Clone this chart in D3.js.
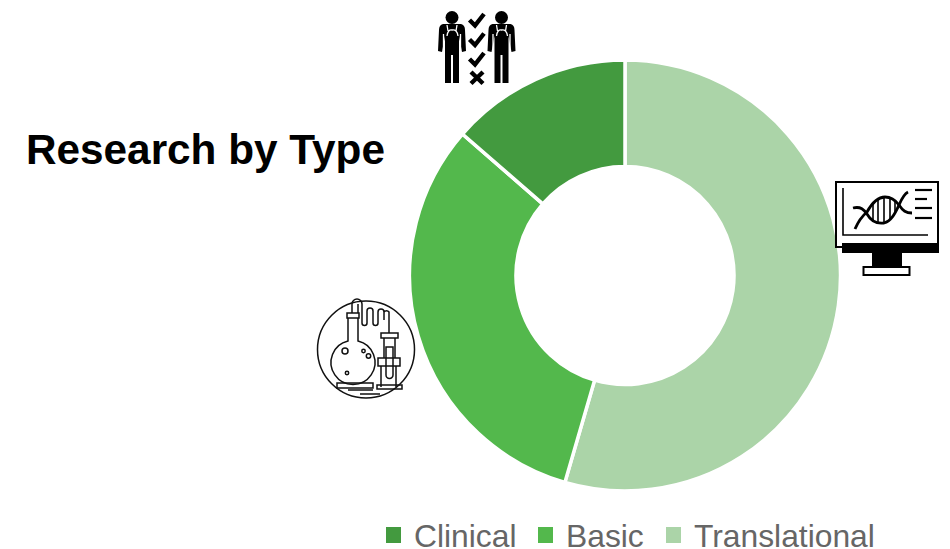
<!DOCTYPE html>
<html>
<head>
<meta charset="utf-8">
<script src="https://cdn.jsdelivr.net/npm/d3@7"></script>
<style>
  html, body { margin: 0; padding: 0; background: #fff; overflow: hidden; }
  text { font-family: "Liberation Sans", Arial, sans-serif; }
</style>
</head>
<body>
<svg width="950" height="549"></svg>
<script>
const categories = ["Translational", "Basic", "Clinical"];
const shares = [54.5, 31.9, 13.6];
const legendOrder = ["Clinical", "Basic", "Translational"];
const colors = ["#abd4a8", "#53b84c", "#439a3f"];
const titleText = "Research by Type";

const svg = d3.select("svg");
const cx = 625, cy = 275.5;
const color = d3.scaleOrdinal().domain(categories).range(colors);

const pie = d3.pie().sort(null).value(d => d.value);
const arc = d3.arc().innerRadius(109).outerRadius(215.5);
const slices = pie(categories.map((c, i) => ({ name: c, value: shares[i] })));

svg.append("g")
  .attr("transform", `translate(${cx},${cy})`)
  .selectAll("path")
  .data(slices)
  .join("path")
  .attr("d", arc)
  .attr("fill", d => color(d.data.name))
  .attr("stroke", "#fff")
  .attr("stroke-width", 3.5);

svg.append("text")
  .attr("x", 26).attr("y", 164)
  .attr("font-size", 42.3)
  .attr("font-weight", "bold")
  .attr("fill", "#000")
  .text(titleText);

// legend, placed by hand because the entries are not evenly spaced
const legendX = [386, 538, 666];
const legend = svg.append("g").selectAll("g")
  .data(legendOrder)
  .join("g")
  .attr("transform", (d, i) => `translate(${legendX[i]},0)`);
legend.append("rect")
  .attr("y", 527).attr("width", 15).attr("height", 16)
  .attr("fill", d => color(d));
legend.append("text")
  .attr("x", 28).attr("y", 547)
  .attr("font-size", 31.8)
  .attr("fill", "#666")
  .text(d => d);

// doctors + checklist icon
const doctor = (g, x) => {
  g.append("circle").attr("cx", x).attr("cy", 17.5).attr("r", 6.5).attr("fill", "#000");
  g.append("path").attr("fill", "#000")
    .attr("d", `M${x - 9} 24 L${x + 9} 24 Q${x + 13} 25 ${x + 13} 30 L${x + 14} 51 L${x + 10} 52 L${x + 7} 36 L${x + 7} 83 L${x + 1} 83 L${x + 1} 55 L${x - 1} 55 L${x - 1} 83 L${x - 7} 83 L${x - 7} 36 L${x - 10} 52 L${x - 14} 51 L${x - 13} 30 Q${x - 13} 25 ${x - 9} 24 Z`);
  g.append("path").attr("fill", "none").attr("stroke", "#fff").attr("stroke-width", 1.3)
    .attr("d", `M${x - 5} 25 L${x - 4} 31 M${x + 5} 25 L${x + 4} 31 M${x - 5} 36 Q${x - 4} 29 ${x} 30 Q${x + 5} 29 ${x + 6} 36 M${x - 8.5} 34 L${x - 8.5} 50 M${x + 8.5} 34 L${x + 8.5} 50`);
};
const docs = svg.append("g");
doctor(docs, 452);
doctor(docs, 501.5);
[20, 39.5, 59].forEach(y => {
  docs.append("path").attr("fill", "none").attr("stroke", "#000").attr("stroke-width", 4.4)
    .attr("d", `M469.5 ${y} L475 ${y + 5.5} L484 ${y - 6}`);
});
docs.append("path").attr("fill", "none").attr("stroke", "#000").attr("stroke-width", 4.4)
  .attr("d", "M471 72 L483 83.5 M483 72 L471 83.5");

// monitor with DNA icon
const mon = svg.append("g");
mon.append("rect").attr("x", 836).attr("y", 182).attr("width", 102).attr("height", 65)
  .attr("fill", "#fff").attr("stroke", "#000").attr("stroke-width", 2);
mon.append("rect").attr("x", 842).attr("y", 243).attr("width", 97).attr("height", 10).attr("fill", "#000");
mon.append("rect").attr("x", 872).attr("y", 253).attr("width", 30).attr("height", 14).attr("fill", "#000");
mon.append("rect").attr("x", 863.5).attr("y", 267).attr("width", 46).attr("height", 8)
  .attr("fill", "#fff").attr("stroke", "#000").attr("stroke-width", 2);
mon.append("path").attr("fill", "none").attr("stroke", "#000").attr("stroke-width", 1.6)
  .attr("d", "M843 188 L843 235 L928 235");
[[915, 932, 190], [915, 927, 199], [915, 932, 208], [915, 932, 218]].forEach(l => {
  mon.append("line").attr("x1", l[0]).attr("x2", l[1])
    .attr("y1", l[2]).attr("y2", l[2]).attr("stroke", "#000").attr("stroke-width", 2.2);
});
mon.append("path").attr("fill", "none").attr("stroke", "#000").attr("stroke-width", 2.8)
  .attr("d", "M853 208 C861 206 864 210 867 214 C871 221 877 224 884 223 C892 221 896 211 899 205 C902 198 904 194 908 192");
mon.append("path").attr("fill", "none").attr("stroke", "#000").attr("stroke-width", 2.8)
  .attr("d", "M855 229 C858 222 861 217 867 212 C872 203 878 197 885 197 C892 197 896 201 899 205 C903 211 906 213 912 213");
[[873, 204, 873, 221], [878, 199, 878, 224], [884, 197, 884, 224], [890, 199, 890, 220], [895, 202, 895, 213]]
  .forEach(l => {
    mon.append("line").attr("x1", l[0]).attr("y1", l[1]).attr("x2", l[2]).attr("y2", l[3])
      .attr("stroke", "#000").attr("stroke-width", 1.6);
  });

// flask icon, thin outlines only
const flask = svg.append("g").attr("fill", "none").attr("stroke", "#111").attr("stroke-width", 1.5);
flask.append("circle").attr("cx", 366).attr("cy", 349.5).attr("r", 48.5);
flask.append("path")
  .attr("d", "M348 318 L348 341 A22 22 0 1 0 358 341 L358 318");
flask.append("path").attr("d", "M347 313 H359 V318 H347 Z");
flask.append("path")
  .attr("d", "M352 313 V304 A5 5 0 0 1 362 304 V323 A2.5 2.5 0 0 0 367 323 V311 A3 3 0 0 1 373 311 V323 A2.5 2.5 0 0 0 378 323 V312 A3 3 0 0 1 384 312 V320 M358 313 V304 M389 333 V312 A3 3 0 0 0 384 312");
flask.append("path").attr("d", "M381 333 H398 V338 H381 Z M384 338 V358 M395 338 V358 M378 358 H400 V366 H378 Z");
flask.append("path").attr("d", "M381 366 V387 M396 366 V387 M386 347 V375 A3.5 3.5 0 0 0 393 375 V347 Z");
flask.append("path").attr("d", "M337 383 H373 V388 H337 Z M377 385 H402 V389 H377 Z");
flask.append("path").attr("d", "M348 390 H373 M360 394 H380");
[[345, 351, 3], [363.5, 351, 1.7], [368.5, 356, 2.2], [347, 373, 1.7]].forEach(c => {
  flask.append("circle").attr("cx", c[0]).attr("cy", c[1]).attr("r", c[2]);
});
</script>
</body>
</html>
